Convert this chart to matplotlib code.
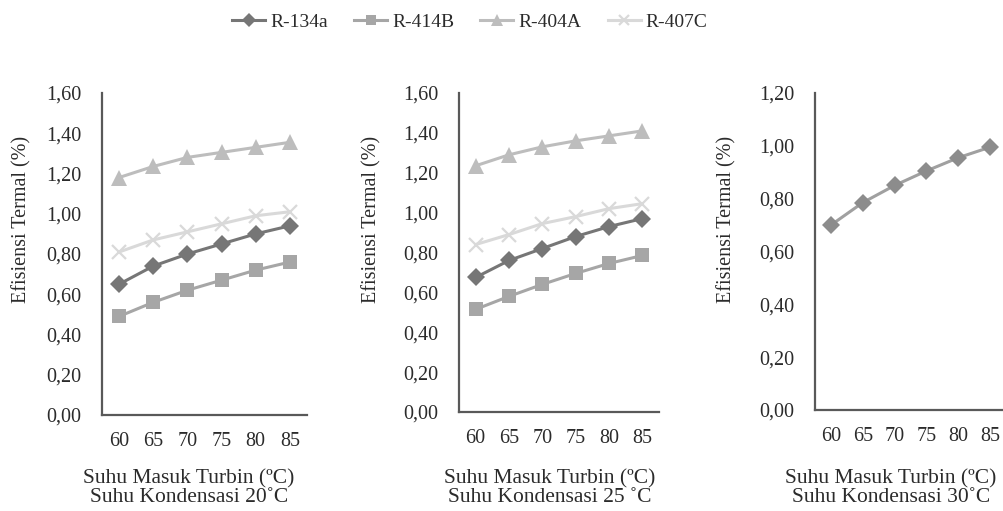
import matplotlib
matplotlib.use("Agg")
import matplotlib.pyplot as plt
from matplotlib.lines import Line2D

plt.rcParams['font.family'] = ['Liberation Serif', 'DejaVu Serif']

suhu = [60, 65, 70, 75, 80, 85]
series_names = ["R-134a", "R-414B", "R-404A", "R-407C"]

# Suhu Kondensasi 20 C
k20_r134a = [0.65, 0.74, 0.80, 0.85, 0.90, 0.94]
k20_r414b = [0.49, 0.56, 0.62, 0.67, 0.72, 0.76]
k20_r404a = [1.18, 1.235, 1.28, 1.305, 1.33, 1.355]
k20_r407c = [0.81, 0.87, 0.91, 0.95, 0.99, 1.01]

# Suhu Kondensasi 25 C
k25_r134a = [0.675, 0.76, 0.82, 0.88, 0.93, 0.97]
k25_r414b = [0.515, 0.58, 0.64, 0.695, 0.745, 0.785]
k25_r404a = [1.235, 1.29, 1.33, 1.36, 1.385, 1.41]
k25_r407c = [0.84, 0.89, 0.945, 0.98, 1.02, 1.045]

# Suhu Kondensasi 30 C
k30_r134a = [0.70, 0.785, 0.85, 0.905, 0.955, 0.995]

yticks_a = [0.0, 0.2, 0.4, 0.6, 0.8, 1.0, 1.2, 1.4, 1.6]
yticks_b = [0.0, 0.2, 0.4, 0.6, 0.8, 1.0, 1.2]

xlabels = ["Suhu Masuk Turbin (\u00baC)\nSuhu Kondensasi 20\u02daC",
           "Suhu Masuk Turbin (\u00baC)\nSuhu Kondensasi 25 \u02daC",
           "Suhu Masuk Turbin (\u00baC)\nSuhu Kondensasi 30\u02daC"]
ylabel = "Efisiensi Termal (%)"

styles = {
    "R-134a": dict(color="#767676", marker="D", ms=9, mew=0),
    "R-414B": dict(color="#a6a6a6", marker="s", ms=10.5, mew=0),
    "R-404A": dict(color="#bdbdbd", marker="^", ms=11, mew=0),
    "R-407C": dict(color="#d9d9d9", marker="x", ms=9.5, mew=1.6),
}

txt = "#2b2b2b"
axc = "#595959"

fig = plt.figure(figsize=(10.04, 5.11), dpi=100)

W, H = 1004.0, 511.0
def add_ax(l, r, t, b):
    return fig.add_axes([l / W, 1 - b / H, (r - l) / W, (b - t) / H])

ax1 = add_ax(102, 307, 93, 415)
ax2 = add_ax(459, 659, 93, 412)
ax3 = add_ax(815, 1006, 93, 410)

def fmt(v):
    return ("%.2f" % v).replace(".", ",")

def style_ax(ax, yt):
    ax.set_xlim(57.5, 87.5)
    ax.set_ylim(yt[0], yt[-1])
    ax.set_yticks(yt)
    ax.set_yticklabels([fmt(v) for v in yt])
    ax.set_xticks(suhu)
    ax.set_xticklabels([str(s) for s in suhu])
    for s in ["top", "right"]:
        ax.spines[s].set_visible(False)
    for s in ["left", "bottom"]:
        ax.spines[s].set_color(axc)
        ax.spines[s].set_linewidth(1.6)
    ax.tick_params(axis="both", length=0, labelsize=14.5, colors=txt)
    ax.tick_params(axis="y", pad=15)
    ax.tick_params(axis="x", pad=12)
    ax.patch.set_visible(False)

data20 = [k20_r134a, k20_r414b, k20_r404a, k20_r407c]
data25 = [k25_r134a, k25_r414b, k25_r404a, k25_r407c]

for ax, dset in [(ax1, data20), (ax2, data25)]:
    for name, vals in zip(series_names[::-1], dset[::-1]):
        st = styles[name]
        ax.plot(suhu, vals, color=st["color"], lw=2.2, marker=st["marker"],
                ms=st["ms"], mew=st["mew"], mec=st["color"], mfc=st["color"],
                clip_on=False, zorder=3)

ax3.plot(suhu, k30_r134a, color="#a0a0a0", lw=2.2, marker="D", ms=9,
         mfc="#8c8c8c", mec="#8c8c8c", mew=0, clip_on=False, zorder=3)

style_ax(ax1, yticks_a)
style_ax(ax2, yticks_a)
style_ax(ax3, yticks_b)

# axis titles placed in pixel positions
for xc, xl in zip([189, 550, 891], xlabels):
    fig.text(xc / W, 1 - 488 / H, xl, ha="center", va="center", fontsize=15.5,
             color=txt, linespacing=1.0)
for xc in [22, 372, 727]:
    fig.text(xc / W, 1 - 219 / H, ylabel, ha="center", va="center", rotation=90,
             fontsize=14.5, color=txt)

handles = []
for name in series_names:
    st = styles[name]
    handles.append(Line2D([0], [0], color=st["color"], lw=2.2, marker=st["marker"],
                          ms=st["ms"] * 0.75, mew=st["mew"], mec=st["color"],
                          mfc=st["color"]))
fig.legend(handles, series_names, loc="center", bbox_to_anchor=(0.468, 0.957),
           ncol=4, frameon=False, fontsize=14, handlelength=1.7,
           handletextpad=0.25, columnspacing=1.35, labelcolor=txt)

fig.savefig("out.png", dpi=100)
